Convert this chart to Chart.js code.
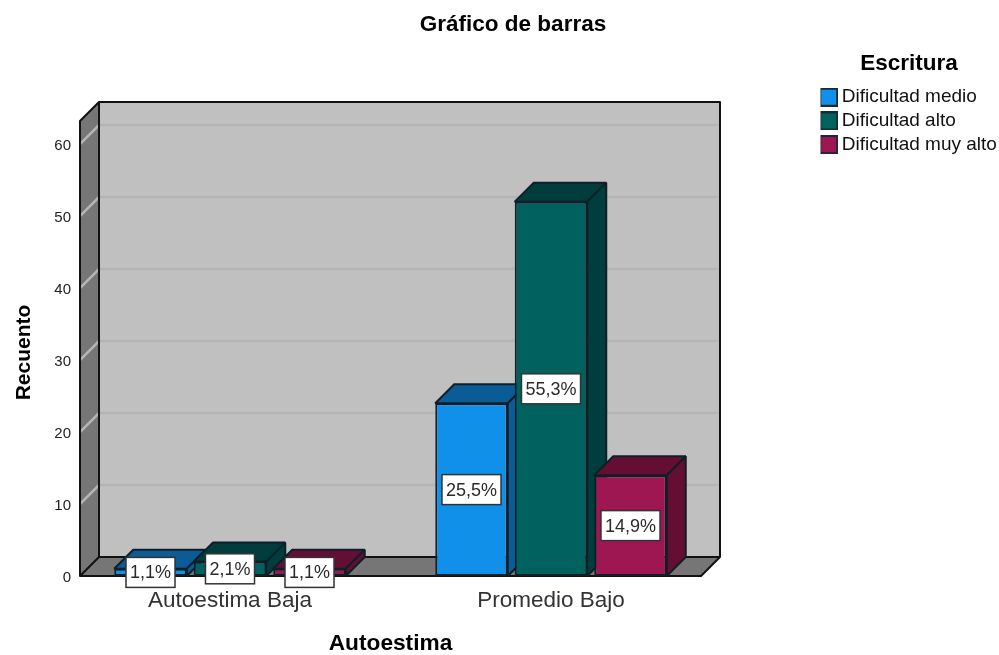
<!DOCTYPE html>
<html><head><meta charset="utf-8">
<style>html,body{margin:0;padding:0;background:#fff}canvas{display:block;filter:blur(0.4px)}</style>
<script src="https://cdn.jsdelivr.net/npm/chart.js@4"></script>
</head><body><canvas id="c" width="999" height="655"></canvas>
<script>
const categories = ['Autoestima Baja', 'Promedio Bajo'];
const seriesNames = ['Dificultad medio', 'Dificultad alto', 'Dificultad muy alto'];
const medio = [1, 24];
const alto = [2, 52];
const muyAlto = [1, 14];
const medioPct = ['1,1%', '25,5%'];
const altoPct = ['2,1%', '55,3%'];
const muyAltoPct = ['1,1%', '14,9%'];
const yTop = 63.2;
const frontColors = ['#1190EA', '#00615F', '#9E1652'];
const topColors = ['#0B5B97', '#003D3C', '#640E34'];
const edge = '#0F1F28';
const DEPTH = 19, INSET = 10.5;
const FONT = '"Liberation Sans", Arial, sans-serif';
const pctLabels = [medioPct, altoPct, muyAltoPct];

function swatch(color){
  const c = document.createElement('canvas'); c.width = 19; c.height = 19;
  const g = c.getContext('2d');
  g.fillStyle = color; g.fillRect(1,1,17,17);
  g.strokeStyle = '#1a2a30'; g.lineWidth = 2; g.strokeRect(1,1,17,17);
  return c;
}
function poly(ctx, pts, fill, stroke, lw){
  ctx.beginPath(); pts.forEach((p,i)=> i?ctx.lineTo(p[0],p[1]):ctx.moveTo(p[0],p[1])); ctx.closePath();
  if(fill){ctx.fillStyle=fill;ctx.fill();}
  if(stroke){ctx.strokeStyle=stroke;ctx.lineWidth=lw||2;ctx.lineJoin='bevel';ctx.stroke();}
}
const scene = {
  id:'scene',
  afterLayout(chart){
    const y = chart.scales.y;
    y.bottom += 8;
    y.right += 4;
    chart.titleBlock.left = 27;
    chart.legend.left = 820.5;
    chart.legend.width = 177;
  },
  beforeDatasetsDraw(chart){
    const ctx = chart.ctx, X = chart.scales.x, Y = chart.scales.y;
    const l = X.left + INSET, r = X.right - INSET;
    const b = Y.getPixelForValue(0), t = Y.getPixelForValue(yTop);
    ctx.save();
    poly(ctx, [[l+DEPTH,t-DEPTH],[r+DEPTH,t-DEPTH],[r+DEPTH,b-DEPTH],[l+DEPTH,b-DEPTH]], '#C0C0C0');
    poly(ctx, [[l,t],[l+DEPTH,t-DEPTH],[l+DEPTH,b-DEPTH],[l,b]], '#767676');
    poly(ctx, [[l,b],[l+DEPTH,b-DEPTH],[r+DEPTH,b-DEPTH],[r,b]], '#767676');
    Y.ticks.forEach(tk=>{
      if(tk.value===0) return;
      const p = Y.getPixelForValue(tk.value);
      ctx.strokeStyle='#B5B5B5'; ctx.lineWidth=2.5;
      ctx.beginPath(); ctx.moveTo(l,p); ctx.lineTo(l+DEPTH,p-DEPTH); ctx.lineTo(r+DEPTH,p-DEPTH); ctx.stroke();
    });
    ctx.strokeStyle='#111'; ctx.lineWidth=2; ctx.lineCap='round'; ctx.lineJoin='round';
    ctx.beginPath();
    ctx.moveTo(l,b); ctx.lineTo(l,t); ctx.lineTo(l+DEPTH,t-DEPTH); ctx.lineTo(r+DEPTH,t-DEPTH); ctx.lineTo(r+DEPTH,b-DEPTH); ctx.lineTo(r,b); ctx.lineTo(l,b);
    ctx.lineTo(l+DEPTH,b-DEPTH); ctx.lineTo(l+DEPTH,t-DEPTH);
    ctx.moveTo(l+DEPTH,b-DEPTH); ctx.lineTo(r+DEPTH,b-DEPTH);
    ctx.stroke();
    ctx.restore();
    chart.data.datasets.forEach((ds,i)=>{
      const meta = chart.getDatasetMeta(i);
      ctx.save();
      meta.data.forEach(el=>{
        const {x,y,base,width} = el.getProps(['x','y','base','width'], true);
        const a = x-width/2, c = x+width/2;
        poly(ctx, [[a,y],[a+DEPTH,y-DEPTH],[c+DEPTH,y-DEPTH],[c,y]], topColors[i], edge, 2);
        poly(ctx, [[c,y],[c+DEPTH,y-DEPTH],[c+DEPTH,base-DEPTH],[c,base]], topColors[i], edge, 2);
      });
      meta.controller.draw();
      ctx.restore();
    });
  },
  beforeDatasetDraw(){ return false; },
  afterDatasetsDraw(chart){
    const ctx = chart.ctx, Y = chart.scales.y;
    ctx.save();
    ctx.font = '18px '+FONT; ctx.textAlign='center'; ctx.textBaseline='middle';
    chart.data.datasets.forEach((ds,i)=>{
      chart.getDatasetMeta(i).data.forEach((el,j)=>{
        const {x} = el.getProps(['x'], true);
        const yc = Y.getPixelForValue(ds.data[j]/2);
        const txt = pctLabels[i][j];
        const w = ctx.measureText(txt).width + 8, h = 30;
        ctx.fillStyle='#fff'; ctx.strokeStyle='#333'; ctx.lineWidth=1.5;
        ctx.fillRect(x-w/2,yc-h/2,w,h); ctx.strokeRect(x-w/2,yc-h/2,w,h);
        ctx.fillStyle='#2b2b2b'; ctx.fillText(txt,x,yc+1);
      });
    });
    ctx.restore();
  }
};
Chart.defaults.font.family = FONT;
new Chart(document.getElementById('c'), {
  type:'bar',
  data:{labels:categories, datasets:[
    {label:seriesNames[0], data:medio, backgroundColor:frontColors[0]},
    {label:seriesNames[1], data:alto, backgroundColor:frontColors[1]},
    {label:seriesNames[2], data:muyAlto, backgroundColor:frontColors[2]}
  ]},
  options:{
    responsive:false, animation:false,
    layout:{padding:0},
    datasets:{bar:{categoryPercentage:0.743,barPercentage:0.912,borderColor:edge,borderWidth:2,borderSkipped:false}},
    plugins:{
      tooltip:{enabled:false},
      title:{display:true,text:'Gráfico de barras',color:'#000',font:{size:22.5,weight:'bold',family:FONT},padding:{top:11,bottom:83}},
      legend:{position:'right',align:'start',
        title:{display:true,text:'Escritura',color:'#000',font:{size:22.5,weight:'bold',family:FONT},padding:{top:53,bottom:3}},
        labels:{color:'#111',font:{size:19,family:FONT},padding:4.7,usePointStyle:true,pointStyleWidth:7,
          generateLabels(chart){
            return Chart.defaults.plugins.legend.labels.generateLabels(chart).map((it,i)=>Object.assign(it,{pointStyle:swatch(frontColors[i])}));
          }}
      }
    },
    scales:{
      x:{type:'category',grid:{display:false,drawTicks:false},border:{display:false},
        ticks:{color:'#333',font:{size:22.5,family:FONT},padding:11,maxRotation:0},
        title:{display:true,text:'Autoestima',color:'#000',font:{size:22.7,weight:'bold',family:FONT,lineHeight:1},padding:{top:0,bottom:0}},
        afterFit(s){s.height=79;}},
      y:{type:'linear',min:0,max:yTop,position:'left',grid:{display:false,drawTicks:false},border:{display:false},
        ticks:{stepSize:10,includeBounds:false,color:'#222',font:{size:15,family:FONT},padding:2.5,labelOffset:1.5},
        title:{display:true,text:'Recuento',color:'#000',font:{size:21,weight:'bold',family:FONT},padding:{top:12,bottom:0}},
        afterFit(s){s.width=69.5;}},
      spacer:{type:'linear',position:'right',display:true,grid:{display:false},border:{display:false},ticks:{display:false},
        afterFit(s){s.width=999-711.5-(s.chart.legend?s.chart.legend.width:178);}}
    }
  },
  plugins:[scene]
});
</script></body></html>
